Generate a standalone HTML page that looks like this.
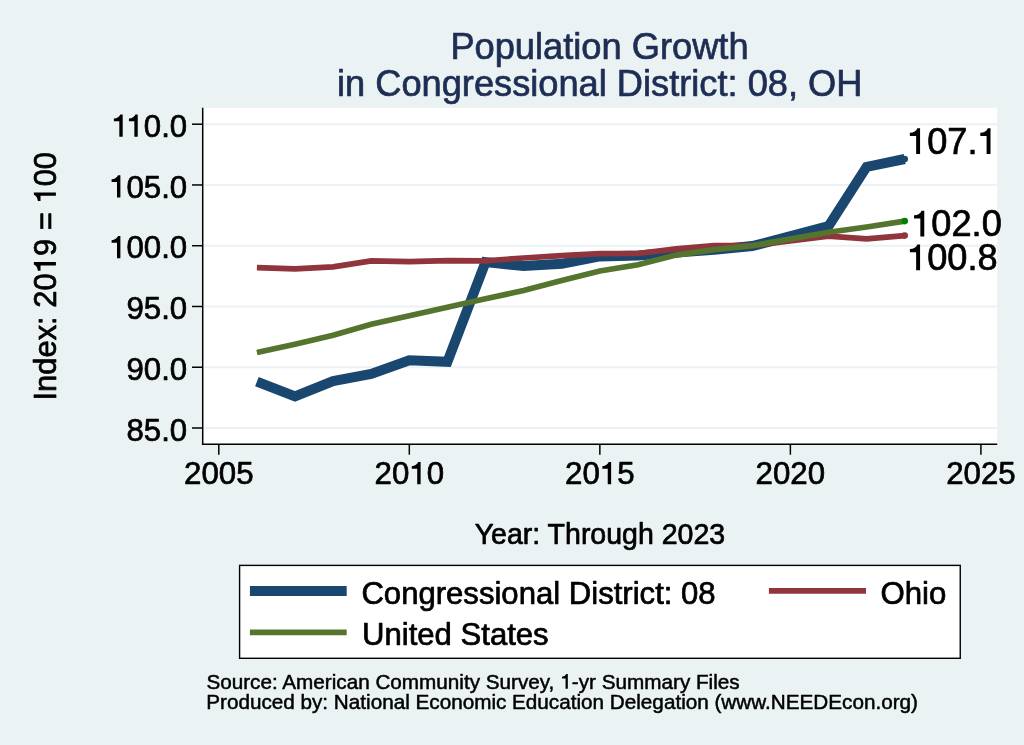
<!DOCTYPE html>
<html lang="en"><head><meta charset="utf-8"><title>Population Growth</title>
<style>html,body{margin:0;padding:0;background:#EAF2F3;}body{width:1024px;height:745px;overflow:hidden;font-family:"Liberation Sans",sans-serif;}</style></head>
<body>
<svg width="1024" height="745" viewBox="0 0 1024 745" style="display:block;will-change:transform;font-family:'Liberation Sans',sans-serif">
<style>text{stroke-width:.7px;stroke-linejoin:round}text{stroke:#000}.t{stroke:#1E2D53}.n{stroke-width:.5px}</style>
<rect x="0" y="0" width="1024" height="745" fill="#EAF2F3"/>
<rect x="203.4" y="107.8" width="793.8" height="335.6" fill="#fff"/>
<line x1="203.4" x2="997.2" y1="428.00" y2="428.00" stroke="#EAF2F3" stroke-width="1.9"/>
<line x1="203.4" x2="997.2" y1="367.24" y2="367.24" stroke="#EAF2F3" stroke-width="1.9"/>
<line x1="203.4" x2="997.2" y1="306.48" y2="306.48" stroke="#EAF2F3" stroke-width="1.9"/>
<line x1="203.4" x2="997.2" y1="245.72" y2="245.72" stroke="#EAF2F3" stroke-width="1.9"/>
<line x1="203.4" x2="997.2" y1="184.96" y2="184.96" stroke="#EAF2F3" stroke-width="1.9"/>
<line x1="203.4" x2="997.2" y1="124.20" y2="124.20" stroke="#EAF2F3" stroke-width="1.9"/>
<polyline points="256.9,381.6 295.0,396.3 333.1,381.0 371.2,373.9 409.3,360.3 447.4,361.8 485.5,262.1 523.6,266.1 561.7,263.8 599.8,256.4 638.0,255.4 676.1,252.4 714.2,249.7 752.3,246.1 828.5,226.2 866.6,166.9 904.7,159.0" fill="none" stroke="#1A476F" stroke-width="10" stroke-linejoin="miter"/>
<circle cx="904.7" cy="159.0" r="3.3" fill="#1A476F"/>
<polyline points="256.9,267.7 295.0,268.8 333.1,266.9 371.2,260.9 409.3,261.6 447.4,260.7 485.5,260.8 523.6,258.0 561.7,255.6 599.8,253.6 638.0,253.5 676.1,248.9 714.2,245.7 752.3,245.7 828.5,236.2 866.6,238.8 904.7,235.6" fill="none" stroke="#90353B" stroke-width="5.7" stroke-linejoin="miter"/>
<circle cx="904.7" cy="235.6" r="3.3" fill="#90353B"/>
<polyline points="256.9,352.5 295.0,344.3 333.1,335.3 371.2,324.3 409.3,315.7 447.4,307.3 485.5,298.7 523.6,290.6 561.7,280.5 599.8,271.0 638.0,264.7 676.1,255.1 714.2,249.7 752.3,245.7 828.5,232.2 866.6,227.0 904.7,221.1" fill="none" stroke="#55752F" stroke-width="5.7" stroke-linejoin="miter"/>
<circle cx="904.7" cy="221.1" r="3.3" fill="#008000"/>
<line x1="202.7" x2="202.7" y1="107.8" y2="444.95" stroke="#000" stroke-width="1.5"/>
<line x1="201.95" x2="997.2" y1="444.2" y2="444.2" stroke="#000" stroke-width="1.5"/>
<line x1="192" x2="202" y1="428.00" y2="428.00" stroke="#000" stroke-width="1.5"/>
<text x="126.48" y="440.60" font-size="31.2" fill="#000">85.0</text>
<line x1="192" x2="202" y1="367.24" y2="367.24" stroke="#000" stroke-width="1.5"/>
<text x="126.48" y="379.84" font-size="31.2" fill="#000">90.0</text>
<line x1="192" x2="202" y1="306.48" y2="306.48" stroke="#000" stroke-width="1.5"/>
<text x="126.48" y="319.08" font-size="31.2" fill="#000">95.0</text>
<line x1="192" x2="202" y1="245.72" y2="245.72" stroke="#000" stroke-width="1.5"/>
<text x="126.48" y="258.32" font-size="31.2" fill="#000">00.0</text><path d="M120.39 258.32L117.00 258.32L117.00 242.81L111.59 242.81L111.59 240.13Q116.61 239.76 118.05 236.11L120.39 236.11Z" fill="#000"/>
<line x1="192" x2="202" y1="184.96" y2="184.96" stroke="#000" stroke-width="1.5"/>
<text x="126.48" y="197.56" font-size="31.2" fill="#000">05.0</text><path d="M120.39 197.56L117.00 197.56L117.00 182.05L111.59 182.05L111.59 179.37Q116.61 179.00 118.05 175.35L120.39 175.35Z" fill="#000"/>
<line x1="192" x2="202" y1="124.20" y2="124.20" stroke="#000" stroke-width="1.5"/>
<text x="143.83" y="136.80" font-size="31.2" fill="#000">0.0</text><path d="M122.70 136.80L119.32 136.80L119.32 121.29L113.90 121.29L113.90 118.61Q118.93 118.24 120.36 114.59L122.70 114.59ZM137.74 136.80L134.35 136.80L134.35 121.29L128.94 121.29L128.94 118.61Q133.96 118.24 135.40 114.59L137.74 114.59Z" fill="#000"/>
<line x1="218.80" x2="218.80" y1="444.9" y2="454.7" stroke="#000" stroke-width="1.5"/>
<text x="184.04" y="484.35" font-size="31.25" fill="#000">2005</text>
<line x1="409.32" x2="409.32" y1="444.9" y2="454.7" stroke="#000" stroke-width="1.5"/>
<text x="374.57" y="484.35" font-size="31.25" fill="#000">20</text><text x="426.70" y="484.35" font-size="31.25" fill="#000">0</text><path d="M420.61 484.35L417.22 484.35L417.22 468.82L411.79 468.82L411.79 466.13Q416.82 465.76 418.26 462.10L420.61 462.10Z" fill="#000"/>
<line x1="599.85" x2="599.85" y1="444.9" y2="454.7" stroke="#000" stroke-width="1.5"/>
<text x="565.09" y="484.35" font-size="31.25" fill="#000">20</text><text x="617.23" y="484.35" font-size="31.25" fill="#000">5</text><path d="M611.13 484.35L607.74 484.35L607.74 468.82L602.32 468.82L602.32 466.13Q607.35 465.76 608.79 462.10L611.13 462.10Z" fill="#000"/>
<line x1="790.38" x2="790.38" y1="444.9" y2="454.7" stroke="#000" stroke-width="1.5"/>
<text x="755.62" y="484.35" font-size="31.25" fill="#000">2020</text>
<line x1="980.90" x2="980.90" y1="444.9" y2="454.7" stroke="#000" stroke-width="1.5"/>
<text x="946.14" y="484.35" font-size="31.25" fill="#000">2025</text>
<text x="927.13" y="153.90" font-size="36.2" fill="#000">07.</text><path d="M920.07 153.90L916.14 153.90L916.14 135.91L909.86 135.91L909.86 132.80Q915.69 132.36 917.35 128.13L920.07 128.13ZM990.52 153.90L986.60 153.90L986.60 135.91L980.32 135.91L980.32 132.80Q986.14 132.36 987.81 128.13L990.52 128.13Z" fill="#000"/>
<text x="931.33" y="236.40" font-size="36.2" fill="#000">02.0</text><path d="M924.27 236.40L920.34 236.40L920.34 218.41L914.06 218.41L914.06 215.30Q919.89 214.86 921.55 210.63L924.27 210.63Z" fill="#000"/>
<text x="927.13" y="270.20" font-size="36.2" fill="#000">00.8</text><path d="M920.07 270.20L916.14 270.20L916.14 252.21L909.86 252.21L909.86 249.10Q915.69 248.66 917.35 244.43L920.07 244.43Z" fill="#000"/>
<text x="599.5" y="59.2" font-size="36.25" text-anchor="middle" fill="#1E2D53" class="t">Population Growth</text>
<text x="599.7" y="95.5" font-size="36.22" text-anchor="middle" fill="#1E2D53" class="t">in Congressional District: 08, OH</text>
<g transform="translate(55.9,276.25) rotate(-90)"><text x="-124.34" y="0.00" font-size="30.95" fill="#000">Index: 20</text><text x="20.21" y="0.00" font-size="30.95" fill="#000">9 =</text><text x="89.91" y="0.00" font-size="30.95" fill="#000">00</text><path d="M14.17 0.00L10.81 0.00L10.81 -15.38L5.44 -15.38L5.44 -18.04Q10.43 -18.42 11.85 -22.04L14.17 -22.04ZM83.87 0.00L80.51 0.00L80.51 -15.38L75.14 -15.38L75.14 -18.04Q80.13 -18.42 81.55 -22.04L83.87 -22.04Z" fill="#000"/></g>
<text transform="translate(599.9,543.7) scale(1,1.05)" font-size="28.5" text-anchor="middle">Year: Through 2023</text>
<rect x="239.6" y="565.4" width="720.65" height="92.90" fill="#fff" stroke="#000" stroke-width="1.4"/>
<line x1="249.9" x2="346.7" y1="591.0" y2="591.0" stroke="#1A476F" stroke-width="10"/>
<line x1="249.9" x2="346.7" y1="632.4" y2="632.4" stroke="#55752F" stroke-width="5.7"/>
<line x1="768.9" x2="866.0" y1="590.9" y2="590.9" stroke="#90353B" stroke-width="5.7"/>
<text x="361.4" y="603.5" font-size="31.1">Congressional District: 08</text>
<text x="362.0" y="644.9" font-size="31.1">United States</text>
<text x="880.4" y="603.9" font-size="31.2">Ohio</text>
<text x="206.40" y="688.70" font-size="20.7" fill="#000" class="n">Source: American Community Survey,</text><text x="571.85" y="688.70" font-size="20.7" fill="#000" class="n">-yr Summary Files</text><path d="M567.81 688.70L565.57 688.70L565.57 678.41L561.98 678.41L561.98 676.63Q565.31 676.38 566.26 673.96L567.81 673.96Z" fill="#000"/>
<text x="206.2" y="708.7" font-size="20.7" class="n">Produced by: National Economic Education Delegation (www.NEEDEcon.org)</text>
</svg>
</body></html>
